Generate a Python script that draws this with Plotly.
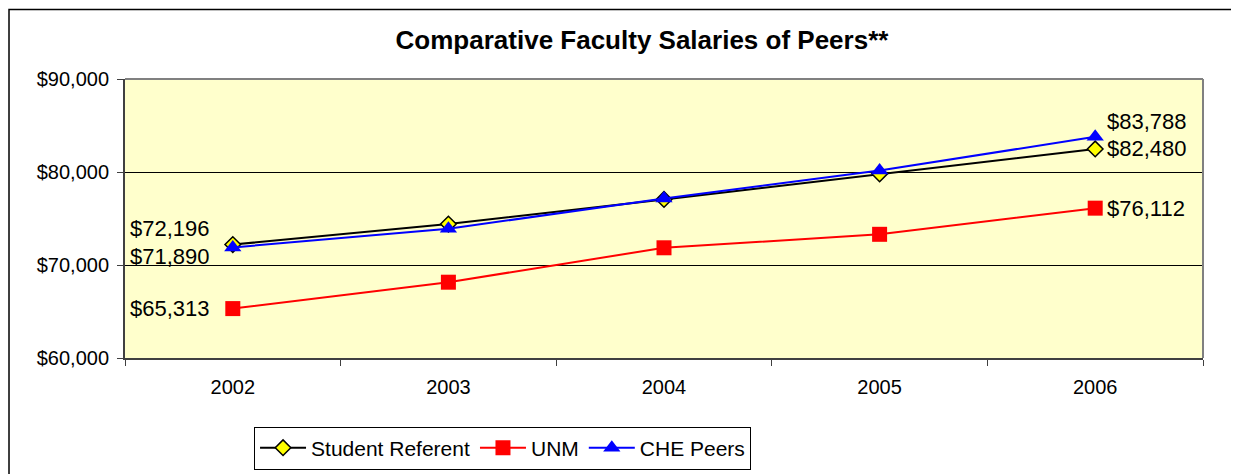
import plotly.graph_objects as go

years = ["2002", "2003", "2004", "2005", "2006"]
student_referent = [72196, 74400, 77050, 79800, 82480]
unm = [65313, 68150, 71850, 73300, 76112]
che_peers = [71890, 73900, 77150, 80150, 83788]

FONT = "Liberation Sans, Arial, sans-serif"

fig = go.Figure()
fig.add_trace(go.Scatter(
    x=years, y=student_referent, name="Student Referent", mode="lines+markers",
    line=dict(color="black", width=2),
    marker=dict(symbol="diamond", size=12, color="#FFFF00", line=dict(color="black", width=1.5)),
))
fig.add_trace(go.Scatter(
    x=years, y=unm, name="UNM", mode="lines+markers",
    line=dict(color="#FF0000", width=2),
    marker=dict(symbol="square", size=15, color="#FF0000"),
))
fig.add_trace(go.Scatter(
    x=years, y=che_peers, name="CHE Peers", mode="lines+markers",
    line=dict(color="#0000FF", width=2),
    marker=dict(symbol="triangle-up", size=15, color="#0000FF"),
))

# value labels on the first and last point of each series
# (series values, pixel shift of the first label, pixel shift of the last label)
label_shifts = [
    (student_referent, 16, 0),
    (unm, 0, 0),
    (che_peers, -9, 15),
]
first, last = 0, len(years) - 1  # category positions on the x axis
for vals, y_first, y_last in label_shifts:
    fig.add_annotation(x=first, y=vals[first], text="${:,}".format(vals[first]), showarrow=False,
                       xanchor="right", xshift=-21, yshift=y_first, font=dict(size=22))
    fig.add_annotation(x=last, y=vals[last], text="${:,}".format(vals[last]), showarrow=False,
                       xanchor="left", xshift=10, yshift=y_last, font=dict(size=22))

# outer chart frame and the grey top/right edge of the plot area
fig.add_shape(type="rect", xref="paper", yref="paper", x0=-0.1076, x1=1.3, y0=-0.6, y1=1.249,
              line=dict(color="black", width=1.5), layer="below")
fig.add_shape(type="line", xref="paper", yref="paper", x0=0, x1=1, y0=1, y1=1,
              line=dict(color="#808080", width=2))
fig.add_shape(type="line", xref="paper", yref="paper", x0=1, x1=1, y0=0, y1=1,
              line=dict(color="#808080", width=2))

fig.update_layout(
    width=1239, height=474,
    margin=dict(l=117, r=44, t=71, b=122),
    paper_bgcolor="white", plot_bgcolor="#FFFFCC",
    font=dict(family=FONT, size=19, color="black"),
    title=dict(text="<b>Comparative Faculty Salaries of Peers**</b>", x=0.5117, xanchor="center",
               y=0.9325, yanchor="middle", font=dict(size=26)),
    showlegend=True,
    legend=dict(orientation="h", x=0.1197, xanchor="left", y=-0.2456, yanchor="top",
                bordercolor="black", borderwidth=1, bgcolor="white",
                font=dict(size=21), itemwidth=46, tracegroupgap=0),
    xaxis=dict(type="category", tickson="boundaries", ticks="outside", ticklen=6,
               tickcolor="#404040", showline=True, linecolor="#404040", linewidth=2,
               showgrid=False, tickfont=dict(size=20), range=[-0.5, 4.5],
               ticklabelstandoff=10),
    yaxis=dict(range=[60000, 90000], dtick=10000, tickprefix="$", tickformat=",",
               ticks="outside", ticklen=6, tickcolor="#404040", showline=True,
               linecolor="#404040", linewidth=2, showgrid=True, gridcolor="black",
               gridwidth=1, zeroline=False, tickfont=dict(size=20),
               ticklabelstandoff=4),
)

fig.write_html("out.html")
